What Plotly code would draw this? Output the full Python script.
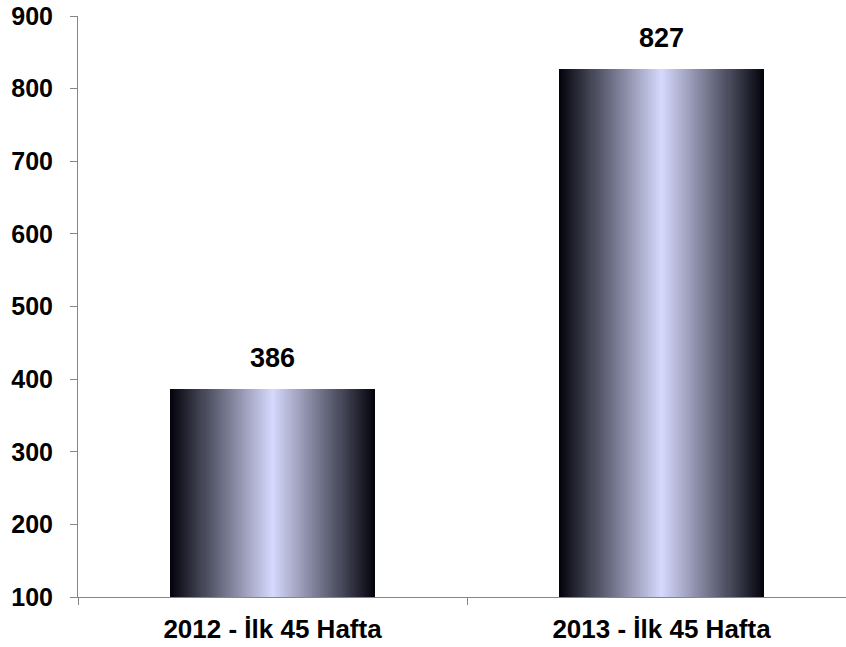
import plotly.graph_objects as go

categories = ["2012 - İlk 45 Hafta", "2013 - İlk 45 Hafta"]
values = [386, 827]
value_labels = ["386", "827"]
y_ticks = [100, 200, 300, 400, 500, 600, 700, 800, 900]

# gradient styling for the bars
N = 101
bar_w = 0.527
step = bar_w / N
edge = (2, 2, 10)
center = (213, 216, 252)

fig = go.Figure()
for i in range(N):
    t = abs((i + 0.5) - N / 2) / (N / 2)
    c = tuple(round(center[k] * (1 - t) + edge[k] * t) for k in range(3))
    w = step * 1.6 if i < N - 1 else step
    fig.add_trace(go.Bar(
        x=categories, y=values,
        offset=-bar_w / 2 + i * step, width=w,
        marker=dict(color="rgb(%d,%d,%d)" % c, line=dict(width=0)),
        hoverinfo="skip", showlegend=False,
    ))

for cat, v, lab in zip(categories, values, value_labels):
    fig.add_annotation(x=cat, y=v, text="<b>%s</b>" % lab, showarrow=False,
                       yanchor="bottom", yshift=14,
                       font=dict(family="Liberation Sans, Arial", size=27, color="black"))

fig.update_layout(
    width=846, height=647,
    margin=dict(l=78, r=0, t=16, b=50, autoexpand=False),
    paper_bgcolor="white", plot_bgcolor="white",
    barmode="overlay", bargap=0,
    font=dict(family="Liberation Sans, Arial", color="black"),
    showlegend=False,
)
fig.update_xaxes(
    type="category", range=[-0.5, -0.5 + 768 / 389], automargin=False,
    showline=True, linecolor="#868686", linewidth=1,
    ticks="outside", tickson="boundaries", ticklen=7, tickcolor="#868686",
    tickfont=dict(size=26, family="Liberation Sans, Arial"),
    tickvals=categories, ticktext=["<b>%s</b>" % c for c in categories],
    ticklabelstandoff=9, showgrid=False, zeroline=False,
)
fig.update_yaxes(
    range=[100, 900], tickvals=y_ticks, automargin=False,
    ticktext=["<b>%d</b>" % v for v in y_ticks],
    showline=True, linecolor="#868686", linewidth=1,
    ticks="outside", ticklen=7, tickcolor="#868686",
    tickfont=dict(size=25, family="Liberation Sans, Arial"),
    ticklabelstandoff=12, ticklabeloverflow="allow",
    showgrid=False, zeroline=False,
)

fig.write_html("out.html", config={"displayModeBar": False},
               post_script="document.body.style.margin='0px';")
